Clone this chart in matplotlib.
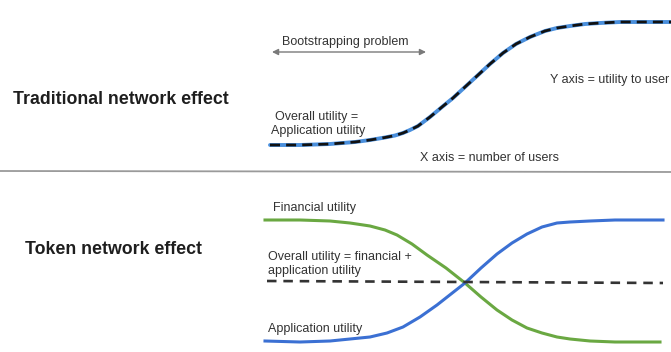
import matplotlib
matplotlib.use("Agg")
import matplotlib.pyplot as plt

plt.rcParams['font.family'] = ['Liberation Sans', 'DejaVu Sans']

# Traditional network effect curve (overall = application utility)
top_x = [270, 300, 330, 355, 370, 385, 395, 403, 410, 418, 430, 442, 453, 465,
         477, 490, 503, 516, 530, 545, 557, 570, 585, 600, 620, 640, 671]
top_y = [145, 145, 144, 142, 140, 137.5, 135.5, 133, 130, 126, 117, 107, 98, 87,
         76, 64, 53, 44, 37, 31, 28, 26, 24, 23, 22, 22, 22]

# Token network effect: financial utility (green)
fin_x = [265, 300, 330, 350, 370, 385, 397, 412, 427, 446, 465, 481, 497, 512,
         527, 542, 557, 570, 590, 615, 640, 660]
fin_y = [220, 220, 221, 223, 226, 230, 235, 244, 255, 268, 283, 297, 310, 320,
         328, 333, 337, 339, 341, 342, 342, 342]

# Token network effect: application utility (blue)
app_x = [265, 300, 330, 350, 370, 387, 403, 420, 437, 451, 465, 481, 497, 512,
         527, 542, 557, 570, 590, 615, 640, 663]
app_y = [341, 342, 341, 339, 337, 333, 327, 317, 305, 294, 283, 268, 254, 243,
         234, 227, 223, 222, 221, 220, 220, 220]

# Overall utility (dashed, flat)
overall_x = [267, 663]
overall_y = [281, 283]

fig = plt.figure(figsize=(6.71, 3.52), dpi=100)
ax = fig.add_axes([0, 0, 1, 1])
ax.set_xlim(0, 671)
ax.set_ylim(352, 0)
ax.axis('off')

# separator
ax.plot([0, 671], [171, 172], color='#9a9a9a', lw=1.3)

# top curve
ax.plot(top_x, top_y, color='#4a8fdc', lw=2.8, solid_capstyle='round',
        solid_joinstyle='round')
ax.plot(top_x, top_y, color='#111111', lw=2.0, dashes=(3.6, 2.2),
        dash_joinstyle='round')

# bottom curves
ax.plot(fin_x, fin_y, color='#6aa842', lw=2.2, solid_joinstyle='round')
ax.plot(app_x, app_y, color='#3b70d3', lw=2.2, solid_joinstyle='round')
ax.plot(overall_x, overall_y, color='#333333', lw=1.9, dashes=(3.6, 2.6))

# arrow
ax.annotate('', xy=(272, 52), xytext=(426, 52),
            arrowprops=dict(arrowstyle='<|-|>', color='#7a7a7a', lw=1.0,
                            mutation_scale=9, shrinkA=0, shrinkB=0))

big = dict(fontsize=12.8, fontweight='bold', color='#1e1e1e', va='center', ha='left')
ax.text(13, 100, 'Traditional network effect', **big)
ax.text(25, 250, 'Token network effect', **big)

sm = dict(fontsize=9.0, color='#333333', va='center', ha='left')
ax.text(282, 42, 'Bootstrapping problem', **sm)
ax.text(275, 117, 'Overall utility =', **sm)
ax.text(271, 131, 'Application utility', **sm)
ax.text(550, 80, 'Y axis = utility to user', **sm)
ax.text(420, 158, 'X axis = number of users', **sm)
ax.text(273, 208, 'Financial utility', **sm)
ax.text(268, 257, 'Overall utility = financial +', **sm)
ax.text(268, 271, 'application utility', **sm)
ax.text(268, 329, 'Application utility', **sm)

fig.savefig('out.png', dpi=100)
